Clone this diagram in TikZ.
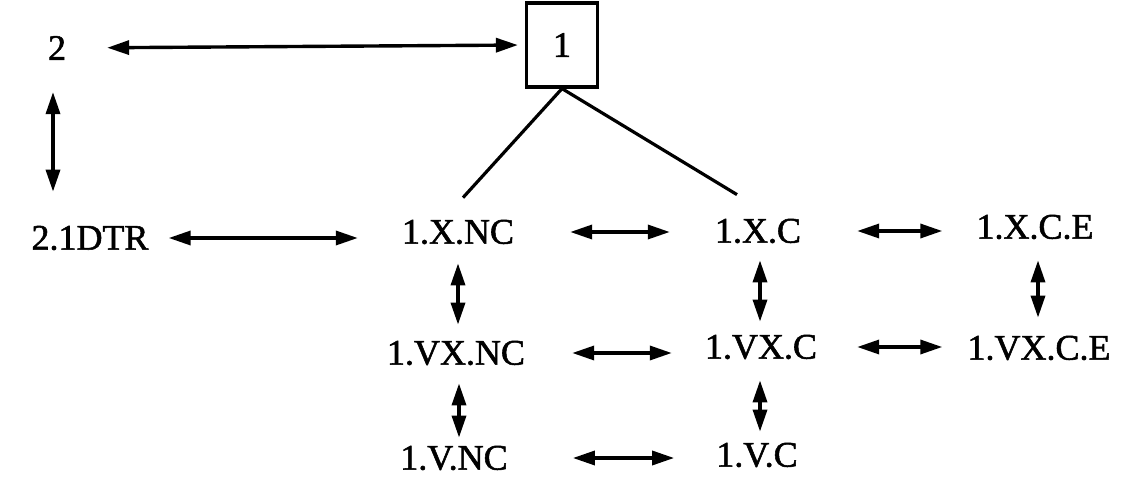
\documentclass[tikz,border=0pt]{standalone}
\usepackage{fontspec}
\setmainfont{Liberation Serif}
\newfontfamily\scanfont{Liberation Serif}[FakeBold=1.5]
\usetikzlibrary{arrows.meta}
\begin{document}
\begin{tikzpicture}[x=1pt,y=-1pt,
  lbl/.style={inner sep=0pt, font=\scanfont\fontsize{36}{40}\selectfont},
  boxnode/.style={draw, line width=3.2pt, minimum width=71pt, minimum height=84pt, inner sep=0pt, font=\scanfont\fontsize{36}{40}\selectfont},
  dbl/.style={line width=3.4pt, {Triangle[length=22pt,width=14pt]}-{Triangle[length=22pt,width=14pt]}},
  tree/.style={line width=3.2pt}]
\useasboundingbox (0,0) rectangle (1132,478);
\node[lbl] (n2) at (57,48) {2};
\node[boxnode] (n1) at (562,45) {1};
\node[lbl] (n21) at (90,238) {2.1DTR};
\node[lbl] (xnc) at (458,232) {1.X.NC};
\node[lbl] (xc) at (758,231) {1.X.C};
\node[lbl] (xce) at (1035,227) {1.X.C.E};
\node[lbl] (vxnc) at (456,353) {1.VX.NC};
\node[lbl] (vxc) at (761,347) {1.VX.C};
\node[lbl] (vxce) at (1039,348) {1.VX.C.E};
\node[lbl] (vnc) at (454,458) {1.V.NC};
\node[lbl] (vc) at (757,455) {1.V.C};
% top
\draw[dbl, shorten <=41pt, shorten >=7pt] (n2.east) -- (n1.west);
\draw[dbl, shorten <=32pt, shorten >=34pt] ([xshift=-4pt]n2.south) -- ([xshift=-4pt]n2.south |- n21.north);
% tree
\draw[tree] (n1.south) -- ([xshift=5pt,yshift=22pt]xnc.north);
\draw[tree] (n1.south) -- ([xshift=-21pt,yshift=24pt]xc.north);
% horizontal
\draw[dbl, shorten <=20pt, shorten >=44pt] (n21.east) -- (n21.east -| xnc.west);
\draw[dbl, shorten <=56pt, shorten >=45pt] (xnc.east) -- (xnc.east -| xc.west);
\draw[dbl, shorten <=56pt, shorten >=34pt] (xc.east) -- (xc.east -| xce.west);
\draw[dbl, shorten <=47pt, shorten >=33pt] (vxnc.east) -- (vxnc.east -| vxc.west);
\draw[dbl, shorten <=40pt, shorten >=25pt] (vxc.east) -- (vxc.east -| vxce.west);
\draw[dbl, shorten <=65pt, shorten >=42pt] (vnc.east) -- (vnc.east -| vc.west);
% vertical
\draw[dbl, shorten <=19pt, shorten >=16pt] (xnc.south) -- (xnc.south |- vxnc.north);
\draw[dbl, shorten <=17pt, shorten >=13pt] ([xshift=2pt]xc.south) -- ([xshift=2pt]xc.south |- vxc.north);
\draw[dbl, shorten <=21pt, shorten >=18pt] ([xshift=3pt]xce.south) -- ([xshift=3pt]xce.south |- vxce.north);
\draw[dbl, shorten <=18pt, shorten >=8pt] ([xshift=3pt]vxnc.south) -- ([xshift=3pt]vxnc.south |- vnc.north);
\draw[dbl, shorten <=21pt, shorten >=11pt] ([xshift=-1pt]vxc.south) -- ([xshift=-1pt]vxc.south |- vc.north);
\end{tikzpicture}
\end{document}
